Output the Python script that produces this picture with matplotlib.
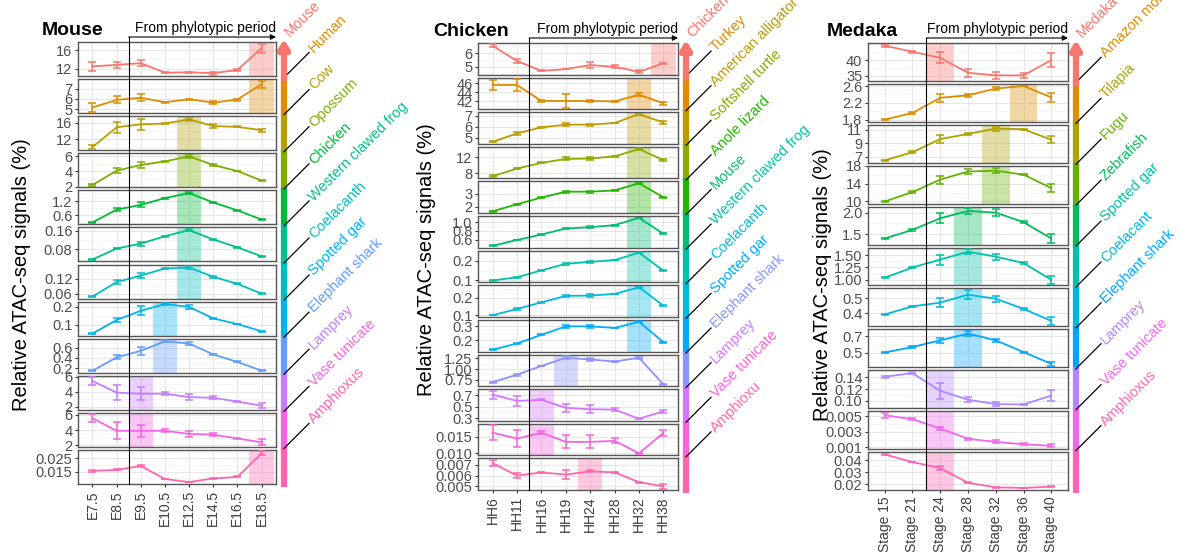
import numpy as np
import matplotlib
matplotlib.use('Agg')
import matplotlib.pyplot as plt
from matplotlib.ticker import MultipleLocator
from matplotlib.transforms import blended_transform_factory

plt.rcParams['font.family'] = ['Liberation Sans', 'DejaVu Sans']

W, H = 1178, 552

# ---------------- data ----------------
mouse_stages = ["E7.5", "E8.5", "E9.5", "E10.5", "E12.5", "E14.5", "E16.5", "E18.5"]
mouse_species = ["Mouse", "Human", "Cow", "Opossum", "Chicken", "Western clawed frog",
                 "Coelacanth", "Spotted gar", "Elephant shark", "Lamprey",
                 "Vase tunicate", "Amphioxus"]
mouse_vals = [
    [12.5, 12.8, 13.2, 11.1, 11.2, 11.0, 11.7, 16.5],
    [5.15, 5.9, 6.1, 5.67, 5.96, 5.63, 5.93, 7.43],
    [10.15, 14.9, 15.6, 15.8, 16.8, 15.2, 15.0, 14.2],
    [2.2, 4.1, 4.85, 5.33, 6.0, 4.85, 4.05, 2.8],
    [0.31, 0.84, 1.04, 1.32, 1.53, 1.14, 0.81, 0.43],
    [0.037, 0.084, 0.105, 0.137, 0.163, 0.123, 0.089, 0.051],
    [0.048, 0.107, 0.134, 0.163, 0.167, 0.129, 0.100, 0.060],
    [0.051, 0.127, 0.178, 0.216, 0.200, 0.136, 0.104, 0.064],
    [0.148, 0.41, 0.54, 0.73, 0.685, 0.47, 0.32, 0.15],
    [5.45, 3.9, 3.75, 3.75, 3.3, 3.2, 2.7, 2.15],
    [5.55, 3.9, 3.9, 3.9, 3.5, 3.4, 2.9, 2.4],
    [0.0155, 0.0162, 0.0192, 0.0093, 0.0070, 0.0097, 0.0109, 0.0287],
]
mouse_err = [
    [1.0, 0.7, 0.7, 0.1, 0.15, 0.3, 0.3, 1.0],
    [0.4, 0.35, 0.35, 0.05, 0.07, 0.15, 0.1, 0.35],
    [0.4, 1.3, 1.4, 0.1, 0.4, 0.4, 0.1, 0.4],
    [0.1, 0.35, 0.45, 0.05, 0.2, 0.1, 0.05, 0.05],
    [0.02, 0.06, 0.1, 0.02, 0.05, 0.02, 0.02, 0.02],
    [0.002, 0.004, 0.008, 0.002, 0.005, 0.003, 0.002, 0.002],
    [0.002, 0.008, 0.01, 0.002, 0.006, 0.004, 0.002, 0.002],
    [0.003, 0.01, 0.025, 0.005, 0.01, 0.003, 0.002, 0.002],
    [0.01, 0.04, 0.08, 0.02, 0.03, 0.01, 0.01, 0.01],
    [0.5, 1.0, 0.9, 0.2, 0.4, 0.2, 0.05, 0.35],
    [0.5, 1.1, 0.8, 0.2, 0.4, 0.2, 0.05, 0.4],
    [0.001, 0.0004, 0.001, 0.0003, 0.0003, 0.0003, 0.0004, 0.0015],
]
mouse_yticks = [["12", "16"], ["5", "6", "7"], ["12", "16"], ["2", "4", "6"],
                ["0.6", "1.2"], ["0.08", "0.16"], ["0.06", "0.12"], ["0.1", "0.2"],
                ["0.2", "0.4", "0.6"], ["2", "4", "6"], ["2", "4", "6"],
                ["0.015", "0.025"]]
mouse_hl = [8, 8, 5, 5, 5, 5, 5, 4, 4, 3, 3, 8]

chicken_stages = ["HH6", "HH11", "HH16", "HH19", "HH24", "HH28", "HH32", "HH38"]
chicken_species = ["Chicken", "Turkey", "American alligator", "Softshell turtle",
                   "Anole lizard", "Mouse", "Western clawed frog", "Coelacanth",
                   "Spotted gar", "Elephant shark", "Lamprey", "Vase tunicate", "Amphioxu"]
chicken_vals = [
    [6.55, 5.43, 4.7, 4.83, 5.13, 5.0, 4.63, 5.25],
    [45.6, 45.6, 42.1, 42.1, 42.1, 42.0, 43.45, 41.6],
    [4.63, 5.4, 5.95, 6.2, 6.2, 6.35, 7.15, 6.4],
    [7.2, 9.15, 10.6, 11.6, 11.7, 12.25, 14.1, 11.3],
    [1.64, 2.18, 2.7, 3.15, 3.15, 3.25, 3.8, 2.72],
    [0.47, 0.60, 0.72, 0.855, 0.885, 0.93, 1.09, 0.74],
    [0.100, 0.116, 0.151, 0.184, 0.194, 0.203, 0.240, 0.150],
    [0.102, 0.136, 0.173, 0.209, 0.211, 0.220, 0.257, 0.155],
    [0.130, 0.175, 0.238, 0.300, 0.300, 0.288, 0.333, 0.185],
    [0.70, 0.87, 1.07, 1.26, 1.22, 1.17, 1.26, 0.65],
    [0.71, 0.60, 0.62, 0.48, 0.455, 0.45, 0.29, 0.42],
    [0.0163, 0.0145, 0.0163, 0.0135, 0.0135, 0.0138, 0.0100, 0.0162],
    [0.00717, 0.0060, 0.0063, 0.0061, 0.0064, 0.0063, 0.0054, 0.0050],
]
chicken_err = [
    [0.1, 0.15, 0.03, 0.02, 0.2, 0.1, 0.1, 0.05],
    [1.0, 1.3, 0.2, 1.5, 0.3, 0.1, 0.3, 0.3],
    [0.05, 0.1, 0.03, 0.15, 0.1, 0.03, 0.05, 0.1],
    [0.2, 0.2, 0.1, 0.4, 0.3, 0.1, 0.2, 0.3],
    [0.03, 0.05, 0.03, 0.07, 0.07, 0.03, 0.03, 0.05],
    [0.01, 0.01, 0.01, 0.02, 0.02, 0.01, 0.01, 0.015],
    [0.002, 0.003, 0.002, 0.006, 0.006, 0.002, 0.003, 0.003],
    [0.002, 0.003, 0.002, 0.007, 0.01, 0.002, 0.003, 0.003],
    [0.003, 0.004, 0.003, 0.01, 0.012, 0.003, 0.003, 0.003],
    [0.01, 0.02, 0.01, 0.04, 0.03, 0.01, 0.02, 0.01],
    [0.07, 0.08, 0.01, 0.07, 0.07, 0.02, 0.01, 0.03],
    [0.0023, 0.0025, 0.0005, 0.002, 0.002, 0.0008, 0.0002, 0.0008],
    [0.0003, 0.0002, 0.00005, 0.0004, 0.0001, 0.00005, 0.00005, 0.0002],
]
chicken_yticks = [["5", "6"], ["42", "44", "46"], ["5", "6", "7"], ["8", "12"],
                  ["2", "3"], ["0.6", "0.8", "1.0"], ["0.1", "0.2"], ["0.1", "0.2"],
                  ["0.2", "0.3"], ["0.75", "1.00", "1.25"], ["0.3", "0.5", "0.7"],
                  ["0.010", "0.015"], ["0.005", "0.006", "0.007"]]
chicken_hl = [8, 7, 7, 7, 7, 7, 7, 7, 7, 4, 3, 3, 5]

medaka_stages = ["Stage 15", "Stage 21", "Stage 24", "Stage 28", "Stage 32", "Stage 36", "Stage 40"]
medaka_species = ["Medaka", "Amazon molly", "Tilapia", "Fugu", "Zebrafish", "Spotted gar",
                  "Coelacant", "Elephant shark", "Lamprey", "Vase tunicate", "Amphioxus"]
medaka_vals = [
    [44.5, 42.6, 40.7, 36.0, 35.2, 35.2, 40.0],
    [1.80, 1.96, 2.32, 2.38, 2.54, 2.60, 2.33],
    [6.5, 7.7, 9.65, 10.4, 11.2, 11.1, 9.55],
    [10.0, 12.1, 14.9, 16.7, 16.9, 16.0, 13.0],
    [1.40, 1.60, 1.87, 2.04, 2.00, 1.78, 1.40],
    [1.04, 1.25, 1.41, 1.57, 1.47, 1.34, 1.00],
    [0.393, 0.447, 0.472, 0.525, 0.498, 0.43, 0.35],
    [0.505, 0.57, 0.65, 0.73, 0.65, 0.51, 0.37],
    [0.141, 0.147, 0.117, 0.102, 0.0945, 0.094, 0.109],
    [0.0051, 0.0046, 0.0034, 0.0021, 0.0017, 0.0014, 0.0012],
    [0.045, 0.0385, 0.0335, 0.021, 0.0172, 0.0167, 0.0178],
]
medaka_err = [
    [0.3, 0.3, 1.7, 1.3, 1.2, 0.7, 2.2],
    [0.01, 0.02, 0.1, 0.03, 0.04, 0.01, 0.1],
    [0.1, 0.15, 0.6, 0.2, 0.3, 0.1, 0.5],
    [0.1, 0.15, 0.9, 0.5, 0.6, 0.15, 0.9],
    [0.01, 0.02, 0.12, 0.06, 0.08, 0.02, 0.1],
    [0.01, 0.01, 0.1, 0.05, 0.06, 0.02, 0.08],
    [0.003, 0.005, 0.03, 0.03, 0.02, 0.005, 0.025],
    [0.005, 0.01, 0.03, 0.03, 0.02, 0.005, 0.02],
    [0.002, 0.002, 0.014, 0.004, 0.004, 0.001, 0.01],
    [0.0003, 0.0001, 0.0002, 0.0001, 0.0002, 0.0001, 0.0002],
    [0.0005, 0.0003, 0.0015, 0.0005, 0.0003, 0.0003, 0.0006],
]
medaka_yticks = [["35", "40"], ["1.8", "2.2", "2.6"], ["7", "9", "11"], ["10", "14", "18"],
                 ["1.5", "2.0"], ["1.00", "1.25", "1.50"], ["0.4", "0.5"], ["0.5", "0.7"],
                 ["0.10", "0.12", "0.14"], ["0.001", "0.003", "0.005"],
                 ["0.02", "0.03", "0.04"]]
medaka_hl = [3, 6, 5, 5, 4, 4, 4, 4, 3, 3, 3]


# ggplot2 style hue palette (HCL, c=100, l=65)
def hue_colors(n):
    out = []
    for h in 15 + 360 * np.arange(n) / n:
        L, C = 65.0, 100.0
        U = C * np.cos(np.radians(h))
        V = C * np.sin(np.radians(h))
        Y = 100.0 * ((L + 16) / 116) ** 3
        u = U / (13 * L) + 0.1978398
        v = V / (13 * L) + 0.4683363
        X = 9.0 * Y * u / (4 * v)
        Z = -X / 3 - 5 * Y + 3 * Y / v
        rgb = [(3.240479 * X - 1.537150 * Y - 0.498535 * Z) / 100,
               (-0.969256 * X + 1.875992 * Y + 0.041556 * Z) / 100,
               (0.055648 * X - 0.204043 * Y + 1.057311 * Z) / 100]
        g = []
        for c in rgb:
            c = 1.055 * c ** (1 / 2.4) - 0.055 if c > 0.00304 else 12.92 * c
            g.append(min(max(c, 0), 1))
        out.append(tuple(g))
    return out


fig = plt.figure(figsize=(W / 100, H / 100), dpi=100)
ov = fig.add_axes([0, 0, 1, 1], zorder=10)
ov.set_xlim(0, W)
ov.set_ylim(H, 0)
ov.axis('off')


def draw_panel(title, stages, species, vals, errs, yticks, hl,
               left, right, top, bottom, title_x, ylab_x, ylab_y):
    n = len(species)
    cols = hue_colors(n)
    slot = (bottom - top) / n
    gap = 3
    x = np.arange(1, len(stages) + 1)
    axes = []
    for i in range(n):
        t = top + i * slot
        b = t + slot - gap
        ax = fig.add_axes([left / W, 1 - b / H, (right - left) / W, (b - t) / H])
        ax.axvspan(hl[i] - 0.5, hl[i] + 0.5, color=cols[i], alpha=0.35, lw=0, zorder=1)
        ax.errorbar(x, vals[i], yerr=errs[i], color=cols[i], lw=1.3, elinewidth=1.1,
                    capsize=3, capthick=1.1, zorder=3)
        ax.set_xlim(0.4, len(stages) + 0.6)
        ax.margins(y=0.05)
        ax.set_ylim(ax.get_ylim())
        ticks = [float(s) for s in yticks[i]]
        ax.set_yticks(ticks)
        ax.set_yticklabels(yticks[i])
        ax.yaxis.set_minor_locator(MultipleLocator((ticks[1] - ticks[0]) / 2))
        ax.set_xticks(x)
        ax.grid(which='major', color='#E6E6E6', lw=0.8, zorder=0)
        ax.grid(which='minor', axis='y', color='#F2F2F2', lw=0.5, zorder=0)
        ax.set_axisbelow(True)
        for s in ax.spines.values():
            s.set_color('#555555')
            s.set_linewidth(1.0)
        ax.tick_params(axis='y', which='major', length=2.5, width=0.8, color='#333333',
                       labelsize=10.5, labelcolor='#4D4D4D', pad=1.5)
        ax.tick_params(axis='y', which='minor', length=0)
        if i == n - 1:
            ax.set_xticklabels(stages, rotation=90)
            ax.tick_params(axis='x', length=2.5, width=0.8, color='#333333',
                           labelsize=10, labelcolor='#3D3D3D', pad=2)
        else:
            ax.tick_params(axis='x', length=0, labelbottom=False)
        axes.append(ax)

    # phylotypic period marker
    tr = blended_transform_factory(axes[0].transData, ov.transData)
    tra = blended_transform_factory(axes[0].transAxes, ov.transData)
    yh = top - 5
    ov.plot([2.5, 2.5], [yh, bottom - gap], color='black', lw=0.8, transform=tr)
    ov.annotate('', xy=(1.0, yh), xycoords=tra, xytext=(2.5, yh), textcoords=tr,
                arrowprops=dict(arrowstyle='-|>', color='black', lw=0.8,
                                mutation_scale=8, shrinkA=0, shrinkB=0))
    ov.text(1.0, yh - 2, 'From phylotypic period', transform=tra, ha='right',
            va='bottom', fontsize=10)
    ov.text(title_x, yh - 2, title, fontsize=14, fontweight='bold', ha='left', va='baseline')
    ov.text(ylab_x, ylab_y, 'Relative ATAC-seq signals (%)', rotation=90,
            ha='center', va='center', fontsize=14.5)

    # species colour bar with labels
    cb_x = right + 8
    for i in range(1, n):
        t = top + i * slot
        ov.plot([cb_x, cb_x], [t - gap, t + slot], color=cols[i], lw=4.5,
                solid_capstyle='butt')
        ov.plot([cb_x, cb_x + 25], [t - 1.5, t - 26.5], color='black', lw=0.9)
        ov.text(cb_x + 27, t - 28.5, species[i], rotation=45, rotation_mode='anchor',
                ha='left', va='center', color=cols[i], fontsize=10.5)
    ov.annotate('', xy=(cb_x, top - 3), xytext=(cb_x, top + slot),
                arrowprops=dict(arrowstyle='-|>,head_length=0.5,head_width=0.3',
                                color=cols[0], lw=4.5, mutation_scale=10,
                                shrinkA=0, shrinkB=0))
    ov.text(cb_x + 3, top - 8, species[0], rotation=45, rotation_mode='anchor',
            ha='left', va='center', color=cols[0], fontsize=10.5)


draw_panel('Mouse', mouse_stages, mouse_species, mouse_vals, mouse_err, mouse_yticks,
           mouse_hl, 78, 276, 42, 487, 42, 22, 275)
draw_panel('Chicken', chicken_stages, chicken_species, chicken_vals, chicken_err,
           chicken_yticks, chicken_hl, 478, 678, 43, 493, 433, 426, 260)
draw_panel('Medaka', medaka_stages, medaka_species, medaka_vals, medaka_err,
           medaka_yticks, medaka_hl, 868, 1068, 43, 493, 827, 822, 285)

fig.savefig('out.png', dpi=100)
